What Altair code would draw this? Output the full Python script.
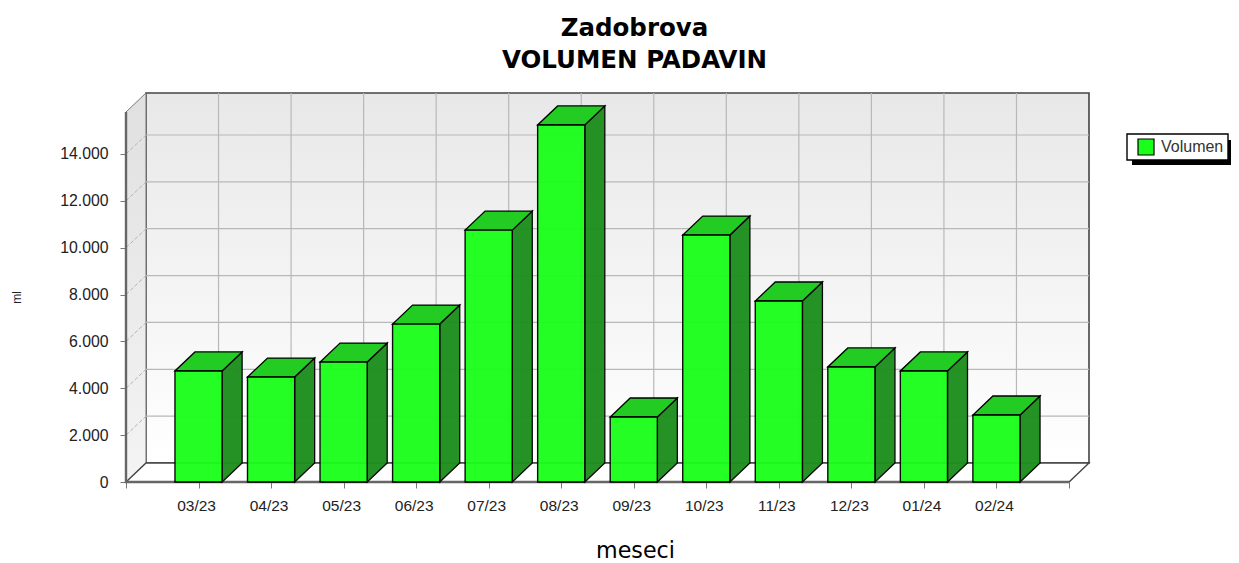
import altair as alt
import pandas as pd

months = ["03/23", "04/23", "05/23", "06/23", "07/23", "08/23",
          "09/23", "10/23", "11/23", "12/23", "01/24", "02/24"]
values = [4740, 4480, 5120, 6740, 10750, 15240, 2775, 10540, 7725, 4910, 4740, 2860]
y_ticks = [0, 2000, 4000, 6000, 8000, 10000, 12000, 14000]

# scene geometry in data units
XMAX, YMAX = 13.2757, 16603
DX, DY = 0.2757, 811
N = 13
HALF = 0.325
F = "Liberation Sans"
TF = "DejaVu Sans"

xs = alt.Scale(domain=[0, XMAX], nice=False, zero=False)
ys = alt.Scale(domain=[0, YMAX], nice=False, zero=False)

x_axis = alt.Axis(
    values=list(range(N + 1)), grid=False, domain=False, title="meseci",
    labelExpr="datum.value>=1 && datum.value<=12 ? %s[datum.value-1] : ''" % str(months),
    labelFont=F, labelFontSize=15.5, labelColor="#222", labelPadding=10, labelOverlap=False, labelOffset=-2.5,
    tickColor="#777", tickSize=6, tickWidth=1,
    titleFont=TF, titleFontSize=22.2, titleFontWeight="normal", titleColor="#000",
    titleX=509, titleY=68.5, titleAlign="center", titleBaseline="middle")
y_axis = alt.Axis(
    values=y_ticks, grid=False, domain=False, title="ml",
    labelExpr="replace(format(datum.value, ','), ',', '.')",
    labelFont=F, labelFontSize=15.8, labelColor="#222", labelPadding=12,
    tickColor="#777", tickSize=6, tickWidth=1,
    titleFont=F, titleFontSize=12, titleFontWeight="normal", titleColor="#222",
    titleX=-110, titleY=204, titleAlign="center", titleBaseline="middle")


def X(f):
    return alt.X(f, scale=xs, axis=x_axis)


def Y(f):
    return alt.Y(f, scale=ys, axis=y_axis)


def para_top(x0, x1, v, key):
    return [
        dict(k=key, x=x0, lo=v, hi=v),
        dict(k=key, x=x0 + DX, lo=v, hi=v + DY),
        dict(k=key, x=x1, lo=v, hi=v + DY),
        dict(k=key, x=x1 + DX, lo=v + DY, hi=v + DY),
    ]


def para_side(x, lo, hi, key):
    return [dict(k=key, x=x, lo=lo, hi=hi), dict(k=key, x=x + DX, lo=lo + DY, hi=hi + DY)]


def area(rows, **kw):
    return alt.Chart(pd.DataFrame(rows)).mark_area(**kw).encode(
        x=X("x:Q"), y=Y("lo:Q"), y2="hi:Q", detail="k:N")


def lines(rows, **kw):
    return alt.Chart(pd.DataFrame(rows)).mark_line(**kw).encode(
        x=X("x:Q"), y=Y("y:Q"), detail="k:N")


def grad(c0, c1):
    return alt.Gradient(gradient="linear", x1=0, x2=0, y1=0, y2=1,
                        stops=[alt.GradientStop(color=c0, offset=0), alt.GradientStop(color=c1, offset=1)])


def box(x0, x1, y0, y1, **kw):
    return alt.Chart(pd.DataFrame({"a": [1]})).mark_rect(**kw).encode(
        x=alt.value(x0), x2=alt.value(x1), y=alt.value(y0), y2=alt.value(y1))


back = area([dict(k="b", x=DX, lo=DY, hi=YMAX), dict(k="b", x=XMAX, lo=DY, hi=YMAX)],
            fill=grad("#e8e8e8", "#ffffff"), stroke="#444", strokeWidth=1.6)
left = area(para_side(0, 0, YMAX - DY, "l"), fill=grad("#e0e0e0", "#f4f4f4"), stroke="#777", strokeWidth=1)
floor = area(para_top(0, N, 0, "f"), fill="#ffffff", stroke="#444", strokeWidth=1.4)

h_grid = lines([dict(k=v, x=x, y=v + DY) for v in y_ticks[1:] for x in (DX, XMAX)],
               color="#b8b8b8", strokeWidth=1.2)
v_grid = lines([dict(k=i, x=i + DX, y=y) for i in range(1, N) for y in (DY, YMAX)],
               color="#b8b8b8", strokeWidth=1.2)
diag_grid = lines([p for v in y_ticks[1:] for p in (dict(k=v, x=0, y=v), dict(k=v, x=DX, y=v + DY))],
                  color="#b4b4b4", strokeWidth=1, strokeDash=[4, 2])
front_edges = lines([dict(k="a", x=0, y=YMAX - DY), dict(k="a", x=0, y=0), dict(k="a", x=N, y=0)],
                    color="#666", strokeWidth=2.4, order=False)

shadow = box(1006, 1105, 47, 72, color="#000")
legend_box = box(1001, 1102, 41, 67, fill="#fff", stroke="#000", strokeWidth=1.4)

pos = list(range(1, N))
front_df = pd.DataFrame({
    "x0": [p - HALF for p in pos], "x1": [p + HALF for p in pos],
    "v": values, "s": ["Volumen"] * len(values), "z": [0] * len(values)})
front = alt.Chart(front_df).mark_rect(stroke="#000", strokeWidth=1.4, opacity=0.95).encode(
    x=X("x0:Q"), x2="x1:Q", y=Y("z:Q"), y2="v:Q",
    fill=alt.Fill("s:N", scale=alt.Scale(domain=["Volumen"], range=["#19ff19"]), legend=alt.Legend(
        title=None, orient="none", legendX=1011, legendY=45, padding=0,
        labelFont=F, labelFontSize=16, labelColor="#333", labelOffset=6,
        symbolType="square", symbolSize=256, symbolStrokeColor="#000", symbolStrokeWidth=1.2,
        symbolOpacity=1)),
)
side_rows = [r for i, (p, v) in enumerate(zip(pos, values)) for r in para_side(p + HALF, 0, v, i)]
side = area(side_rows, fill="#1f8f1f", stroke="#000", strokeWidth=1.3, opacity=0.97)
top_rows = [r for i, (p, v) in enumerate(zip(pos, values)) for r in para_top(p - HALF, p + HALF, v, i)]
top = area(top_rows, fill="#22cc22", stroke="#000", strokeWidth=1.3)

chart = alt.layer(
    back, left, floor, h_grid, v_grid, diag_grid, front_edges,
    shadow, legend_box, side, top, front).properties(
    width=963, height=389,
    autosize=alt.AutoSizeParams(type="none"),
    padding={"left": 118, "top": 85, "right": 142, "bottom": 84},
    title=alt.TitleParams(text=["Zadobrova", "VOLUMEN PADAVIN"], font=TF, fontSize=24.5, fontWeight="bold",
                          color="#000", lineHeight=32, anchor="middle", dx=27, offset=16),
).configure_view(stroke=None)

chart.save("out.html", embed_options={"renderer": "svg", "actions": False})
